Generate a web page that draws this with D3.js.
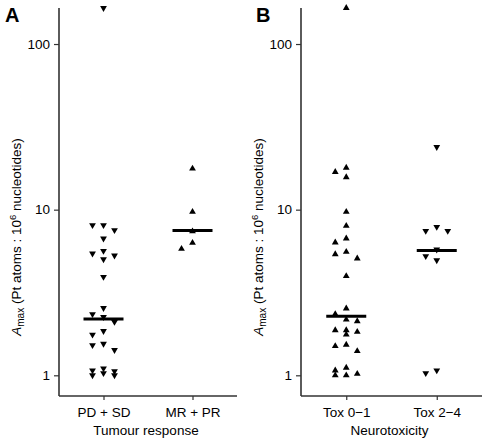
<!DOCTYPE html>
<html>
<head>
<meta charset="utf-8">
<script src="https://cdn.jsdelivr.net/npm/d3@7"></script>
<style>
  html, body { margin: 0; padding: 0; background: #fff; }
  svg { display: block; }
  text { font-family: "Liberation Sans", Arial, Helvetica, sans-serif; fill: #000; }
</style>
</head>
<body>
<svg id="chart" width="482" height="440"></svg>
<script>
// ---------------- data ----------------
const yDomain = [0.75, 165];
const yTickValues = [1, 10, 100];

// Panel A: tumour response
const responseCategories = ["PD + SD", "MR + PR"];
const pdsdValues = [165, 8.06, 8.06, 7.52, 6.70, 5.64, 5.44, 5.29, 5.02, 3.93,
  2.55, 2.34, 2.25, 2.10, 1.85, 1.76, 1.55, 1.52, 1.42, 1.10, 1.07, 1.06, 1.03, 1.0, 1.0];
const mrprValues = [17.7, 9.7, 7.4, 6.3, 5.8];
const responseMedians = [2.19, 7.49];

// Panel B: neurotoxicity
const toxCategories = ["Tox 0\u22121", "Tox 2\u22124"];
const tox01Values = [165, 17.9, 16.9, 15.7, 9.7, 7.98, 6.70, 6.34, 5.56, 5.38, 5.07, 3.97,
  2.53, 2.34, 2.17, 2.12, 1.87, 1.87, 1.83, 1.76, 1.53, 1.50, 1.40, 1.11, 1.07, 1.02, 1.0, 1.0];
const tox24Values = [23.9, 7.87, 7.45, 7.45, 5.75, 5.24, 4.95, 1.07, 1.03];
const toxMedians = [2.27, 5.67];

// ---------------- drawing ----------------
(function () {
const svg = d3.select("#chart");

const panels = [
  { letter: "A", left: 59, right: 237, letterX: 5,
    categories: responseCategories, groups: [pdsdValues, mrprValues],
    medians: responseMedians, symbols: ["down", "up"], xTitle: "Tumour response" },
  { letter: "B", left: 301, right: 482, letterX: 256,
    categories: toxCategories, groups: [tox01Values, tox24Values],
    medians: toxMedians, symbols: ["up", "down"], xTitle: "Neurotoxicity" }
];

const plotTop = 8, plotBottom = 396;
const laneStep = 11, medianHalf = 20, collide = 9;
const tri = d3.symbol().type(d3.symbolTriangle).size(20);

panels.forEach(p => {
  const g = svg.append("g");
  const y = d3.scaleLog().domain(yDomain).range([plotBottom, plotTop]);
  const x = d3.scalePoint().domain(p.categories).range([p.left, p.right]).padding(0.5);

  // y axis
  const ya = g.append("g").attr("transform", `translate(${p.left},0)`)
    .call(d3.axisLeft(y).tickValues(yTickValues).tickFormat(d3.format("d")).tickSize(5).tickPadding(4).tickSizeOuter(0));
  ya.select(".domain").remove();
  ya.selectAll(".tick line").attr("stroke", "#333").attr("stroke-width", 1.2);
  ya.selectAll(".tick text").style("font-size", "13.5px").attr("fill", "#000");
  g.append("line").attr("x1", p.left).attr("x2", p.left).attr("y1", plotTop).attr("y2", plotBottom)
    .attr("stroke", "#333").attr("stroke-width", 1.6);

  // x axis
  const xa = g.append("g").attr("transform", `translate(0,${plotBottom})`)
    .call(d3.axisBottom(x).tickSize(4).tickPadding(7).tickSizeOuter(0));
  xa.select(".domain").remove();
  xa.selectAll(".tick line").attr("stroke", "#333").attr("stroke-width", 1.2);
  xa.selectAll(".tick text").style("font-size", "13.5px").attr("fill", "#000");
  g.append("line").attr("x1", p.left).attr("x2", p.right).attr("y1", plotBottom).attr("y2", plotBottom)
    .attr("stroke", "#333").attr("stroke-width", 1.6);

  // x title
  g.append("text").attr("x", (p.left + p.right) / 2 - 2).attr("y", 435)
    .attr("text-anchor", "middle").style("font-size", "13.5px").text(p.xTitle);

  // y title
  const yt = g.append("text")
    .attr("transform", `translate(${p.left - 38},237) rotate(-90)`)
    .attr("text-anchor", "middle").style("font-size", "13.5px");
  yt.append("tspan").style("font-style", "italic").text("A");
  yt.append("tspan").attr("dy", 3).style("font-size", "10px").text("max");
  yt.append("tspan").attr("dy", -3).text(" (Pt atoms : 10");
  yt.append("tspan").attr("dy", -5).style("font-size", "9.5px").text("6");
  yt.append("tspan").attr("dy", 5).text(" nucleotides)");

  // panel letter
  g.append("text").attr("x", p.letterX).attr("y", 22)
    .style("font-size", "20px").style("font-weight", "bold").text(p.letter);

  // points
  p.groups.forEach((vals, gi) => {
    const cx = x(p.categories[gi]);
    const sorted = vals.slice().sort((a, b) => b - a);
    const placed = { "-1": [], "0": [], "1": [] };
    const pts = [];
    sorted.forEach(v => {
      const py = y(v);
      let lane = null;
      for (const l of [0, -1, 1]) {
        if (placed[l].every(o => Math.abs(o - py) >= collide)) { lane = l; break; }
      }
      if (lane === null) {
        let best = -1;
        for (const l of [0, -1, 1]) {
          const d = d3.min(placed[l], o => Math.abs(o - py));
          if (d > best) { best = d; lane = l; }
        }
      }
      placed[lane].push(py);
      pts.push({ v, lane });
    });
    const rot = p.symbols[gi] === "down" ? 180 : 0;
    g.append("g").selectAll("path").data(pts).join("path")
      .attr("d", tri)
      .attr("transform", d => `translate(${cx + d.lane * laneStep},${y(d.v)}) rotate(${rot})`)
      .attr("fill", "#000");

    // median
    g.append("line")
      .attr("x1", cx - medianHalf).attr("x2", cx + medianHalf)
      .attr("y1", y(p.medians[gi])).attr("y2", y(p.medians[gi]))
      .attr("stroke", "#000").attr("stroke-width", 3);
  });
});
})();
</script>
</body>
</html>
